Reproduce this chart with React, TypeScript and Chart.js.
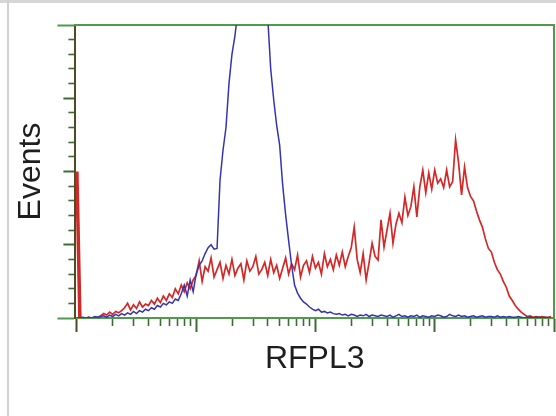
import { useEffect, useRef } from "react";
import { Chart, registerables } from "chart.js";

Chart.register(...registerables);

// Histogram channels: 40 channels per decade, 4 decades (10^0 .. 10^4)
const channelsPerDecade = 40;
const decades = [0, 1, 2, 3];
const minorMultipliers = [1, 2, 3, 4, 5, 6, 7, 8, 9];
const channels: number[] = Array.from({ length: 160 }, (_, i) => i);

// Control (blue) histogram counts
const blueCounts = [
  0, 0, 1, 0, 1, 0, 2, 1,
  2, 3, 1, 4, 2, 5, 3, 6,
  4, 7, 5, 9, 6, 10, 8, 12,
  10, 14, 12, 17, 15, 20, 18, 22,
  20, 26, 24, 33, 45, 30, 52, 36,
  60, 72, 78, 88, 96, 100, 94, 95,
  188, 229, 260, 320, 360, 385, 420, 470,
  520, 560, 590, 600, 590, 560, 520, 470,
  410, 340, 298, 263, 236, 182, 141, 106,
  72, 45, 34, 27, 22, 19, 15, 12,
  10, 12, 8, 9, 7, 8, 6, 5,
  6, 4, 5, 3, 5, 4, 2, 4,
  3, 5, 2, 4, 3, 2, 4, 3,
  2, 4, 1, 3, 5, 2, 3, 1,
  3, 2, 4, 1, 3, 2, 1, 3,
  2, 4, 3, 1, 2, 5, 3, 2,
  4, 2, 3, 1, 2, 3, 1, 2,
  3, 1, 2, 2, 1, 3, 1, 2,
  1, 2, 1, 1, 2, 1, 0, 1,
  1, 0, 1, 1, 0, 1, 0, 0,
];

// RFPL3 (red) histogram counts
const redCounts = [
  200, 0, 0, 0, 1, 0, 0, 1,
  3, 6, 4, 8, 5, 9, 7, 10,
  14, 20, 11, 18, 13, 22, 15, 19,
  17, 24, 19, 27, 21, 30, 24, 33,
  28, 40, 33, 45, 36, 48, 40, 52,
  58, 78, 50, 70, 64, 82, 56, 66,
  76, 54, 72, 60, 80, 58, 68, 74,
  52, 78, 64, 70, 84, 60, 66, 76,
  58, 80, 62, 72, 54, 68, 82, 60,
  74, 66, 86, 56, 72, 78, 62, 84,
  68, 76, 60, 88, 70, 80, 66, 86,
  72, 90, 70, 84, 96, 124, 80, 62,
  88, 52, 76, 102, 84, 79, 134, 97,
  120, 143, 102, 128, 143, 130, 165, 140,
  152, 179, 138, 179, 202, 171, 198, 176,
  202, 184, 190, 178, 202, 179, 186, 243,
  212, 168, 206, 178, 166, 160, 146, 134,
  124, 108, 95, 90, 76, 66, 60, 50,
  42, 30, 24, 17, 12, 8, 5, 2,
  3, 1, 2, 1, 2, 1, 1, 2,
];

const yTickValues = [0, 20, 40, 60, 80, 100, 120, 140, 160, 180, 200, 220, 240, 260, 280, 300, 320, 340, 360, 380, 400];
const yMajorStep = 100;
const yMax = 400;

const GREEN = "#4f9a4f";
const OLIVE = "#4e4a22";
const TICK_GREEN = "#3d6a36";
const BLUE = "#3434b0";
const RED = "#d22828";
const TEXT = "#1e1e1e";
const FONT = "'Liberation Sans', Arial, Helvetica, sans-serif";

export default function App() {
  const canvasRef = useRef<HTMLCanvasElement | null>(null);

  useEffect(() => {
    const canvas = canvasRef.current;
    if (!canvas) return;

    const xTicks: { value: number; major: boolean }[] = [];
    decades.forEach((d) => {
      minorMultipliers.forEach((m) => {
        xTicks.push({ value: channelsPerDecade * (d + Math.log10(m)), major: m === 1 });
      });
    });
    xTicks.push({ value: channelsPerDecade * decades.length, major: true });

    const chart = new Chart(canvas, {
      type: "line",
      data: {
        datasets: [
          {
            label: "Control",
            data: blueCounts.map((y, i) => ({ x: channels[i], y })),
            borderColor: BLUE,
            borderWidth: 1.5,
            pointRadius: 0,
            tension: 0,
            xAxisID: "x",
            yAxisID: "y",
          },
          {
            label: "RFPL3",
            data: redCounts.map((y, i) => ({ x: channels[i], y })),
            borderColor: RED,
            borderWidth: 1.7,
            pointRadius: 0,
            tension: 0,
            xAxisID: "x",
            yAxisID: "y",
            segment: {
              borderWidth: (ctx: any) => (ctx.p0DataIndex === 0 ? 3.5 : undefined),
            },
          },
        ],
      },
      options: {
        responsive: false,
        animation: false,
        events: [],
        layout: { padding: { left: 12, top: 25, right: 2, bottom: 37.6 } },
        plugins: { legend: { display: false }, tooltip: { enabled: false } },
        scales: {
          x: {
            type: "linear",
            position: "bottom",
            min: -0.5,
            max: 160,
            afterBuildTicks: (scale: any) => {
              scale.ticks = xTicks.map((t) => ({ ...t }));
            },
            ticks: { display: false },
            grid: {
              drawOnChartArea: false,
              drawTicks: true,
              tickLength: 14,
              tickColor: (ctx: any) => (ctx.index === 0 ? OLIVE : TICK_GREEN),
              tickWidth: (ctx: any) => (ctx.tick && ctx.tick.major ? 2 : 1.6),
              tickBorderDash: (ctx: any) => (ctx.tick && ctx.tick.major ? [] : [7, 20]),
            },
            border: { display: true, color: GREEN, width: 2 },
            title: {
              display: true,
              text: "RFPL3",
              color: TEXT,
              font: { family: FONT, size: 32 },
              padding: { top: 8, bottom: 0 },
            },
          },
          y: {
            type: "linear",
            position: "left",
            min: 0,
            max: yMax,
            afterBuildTicks: (scale: any) => {
              scale.ticks = yTickValues.map((v) => ({ value: v }));
            },
            ticks: { display: false },
            grid: {
              drawOnChartArea: false,
              drawTicks: true,
              tickLength: 18,
              tickColor: (ctx: any) => {
                const v = ctx.tick ? ctx.tick.value : -1;
                return v === 0 || v === yMax ? GREEN : TICK_GREEN;
              },
              tickWidth: (ctx: any) => {
                const v = ctx.tick ? ctx.tick.value : -1;
                return v % yMajorStep === 0 ? 2 : 1.6;
              },
              tickBorderDash: (ctx: any) => {
                const v = ctx.tick ? ctx.tick.value : -1;
                if (v === 0 || v === yMax) return [];
                return v % yMajorStep === 0 ? [12, 6] : [7, 11];
              },
              tickBorderDashOffset: (ctx: any) => {
                const v = ctx.tick ? ctx.tick.value : -1;
                if (v === 0 || v === yMax) return 0;
                return v % yMajorStep === 0 ? 12 : 7;
              },
            },
            border: { display: true, color: OLIVE, width: 2 },
            title: {
              display: true,
              text: "Events",
              color: TEXT,
              font: { family: FONT, size: 32 },
              padding: { top: 0, bottom: 7 },
            },
          },
          x2: {
            type: "linear",
            position: "top",
            display: true,
            ticks: { display: false },
            grid: { display: false, drawTicks: false },
            border: { display: true, color: GREEN, width: 2 },
          },
          y2: {
            type: "linear",
            position: "right",
            display: true,
            ticks: { display: false },
            grid: { display: false, drawTicks: false },
            border: { display: true, color: GREEN, width: 2 },
          },
        },
      },
    } as any);

    return () => chart.destroy();
  }, []);

  return (
    <div
      style={{
        position: "fixed",
        left: 0,
        top: 0,
        width: 556,
        height: 416,
        background: "#ffffff",
        overflow: "hidden",
      }}
    >
      <div style={{ position: "absolute", left: 0, top: 0, width: 556, height: 3, background: "#d6d6d6" }} />
      <div style={{ position: "absolute", left: 7, top: 0, width: 2, height: 416, background: "#d2d2d2" }} />
      <canvas
        ref={canvasRef}
        width={556}
        height={416}
        style={{ position: "absolute", left: 0, top: 0, width: 556, height: 416 }}
      />
    </div>
  );
}
